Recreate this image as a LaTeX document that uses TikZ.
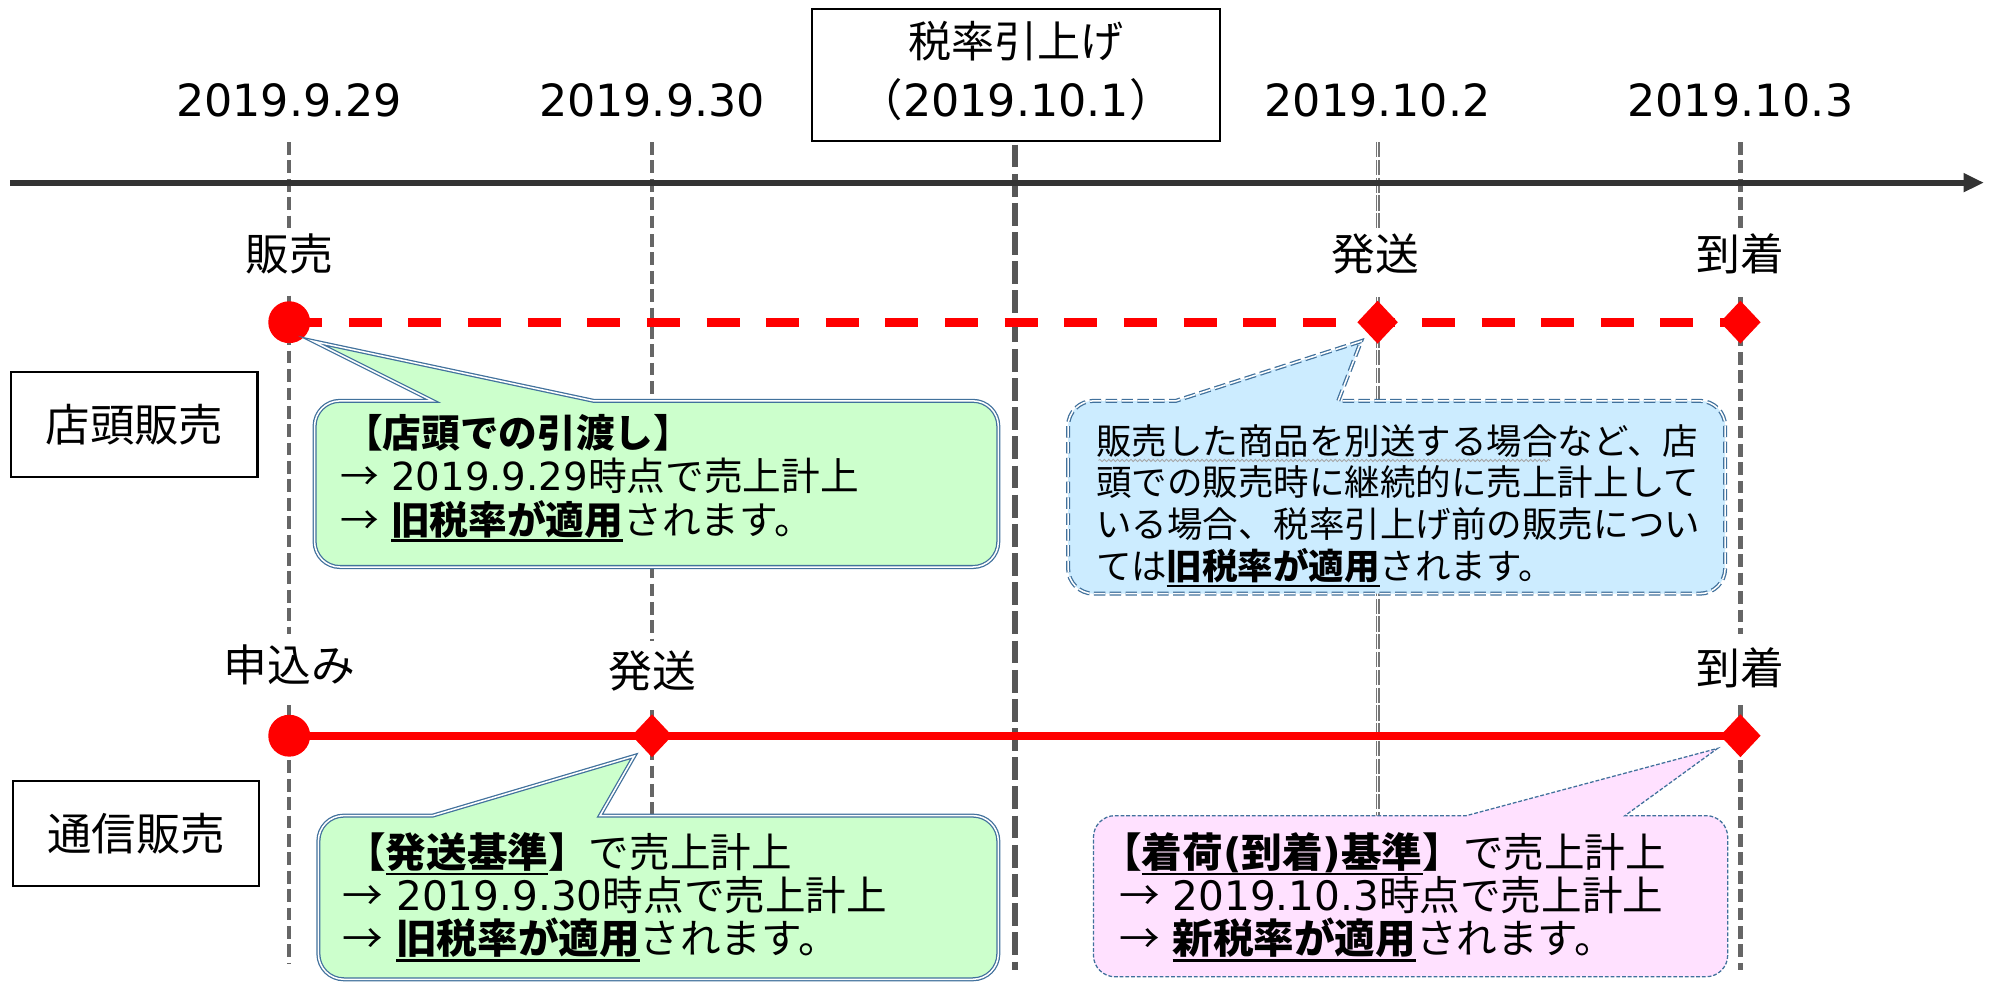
\documentclass[tikz,border=0pt]{standalone}
\usepackage{fontspec}
\setmainfont{Noto Sans CJK JP}
\newfontfamily\lat{DejaVu Sans}
\usetikzlibrary{arrows.meta,decorations.pathmorphing,shapes.geometric}
\definecolor{axisc}{HTML}{333333}
\definecolor{vgray}{HTML}{666666}
\definecolor{cred}{HTML}{FF0000}
\definecolor{cborder}{HTML}{41719C}
\definecolor{gfill}{HTML}{CCFFCC}
\definecolor{bfill}{HTML}{CCECFF}
\definecolor{pfill}{HTML}{FFE1FF}
\newcommand\myul[1]{\setbox0\hbox{#1}\rlap{\vrule width\wd0 height -4pt depth 6pt}\box0}
\tikzset{
  vline/.style={draw=vgray, line width=3.5pt, dash pattern=on 10pt off 4.5pt},
  vthick/.style={draw=vgray!85!black, line width=5pt, dash pattern=on 18pt off 5pt},
  vdouble/.style={draw=vgray!90, line width=0.9pt, double=white, double distance=1.2pt, dash pattern=on 12pt off 2pt},
  datelbl/.style={font=\fontsize{35}{42}\selectfont\lat, inner sep=0pt, anchor=base},
  lbl/.style={font=\fontsize{34.5}{40}\selectfont, inner sep=0pt, anchor=base},
  ctext/.style={font=\fontsize{30.5}{36}\selectfont, inner sep=0pt, anchor=base west},
  ltext/.style={font=\fontsize{32}{38}\selectfont, inner sep=0pt, anchor=base west},
  btext/.style={font=\fontsize{28}{34}\selectfont, inner sep=0pt, anchor=base west},
  rowbox/.style={draw=black, line width=1.6pt, font=\fontsize{35}{40}\selectfont, minimum width=194pt, minimum height=83pt, inner sep=0pt},
  dot/.style={circle, fill=cred, minimum size=33pt, inner sep=0pt},
  dia/.style={diamond, fill=cred, minimum width=32pt, minimum height=34pt, inner sep=0pt},
  gcall/.style={fill=gfill, draw=cborder, line width=1pt, double=white, double distance=1.2pt},
  bcall/.style={fill=bfill, draw=cborder, line width=1pt, double=white, double distance=1.2pt, dash pattern=on 9pt off 3.5pt},
  pcall/.style={fill=pfill, draw=cborder, line width=1pt, dash pattern=on 3pt off 1.5pt},
}
\begin{document}
\begin{tikzpicture}[x=1pt,y=-1pt]
\useasboundingbox (0,0) rectangle (1568,775);
% ---- vertical time lines
\foreach \n/\x in {a/228,b/514,c/800,d/1086,e/1372}{
  \coordinate (top\n) at (\x,112);
}
\draw[vline] (topa) -- (228,180) (228,233) -- (228,500) (228,556) -- (228,760);
\draw[vline] (topb) -- (514,505) (514,560) -- (514,643);
\draw[vthick] (800,114) -- (800,765);
\draw[vdouble] (topd) -- (1086,180) (1086,234) -- (1086,643);
\draw[vline] (tope) -- (1372,180) (1372,234) -- (1372,500) (1372,556) -- (1372,765);
% ---- axis
\coordinate (axs) at (8,144);
\coordinate (axe) at (1564,144);
\draw[axisc, line width=4.5pt, -{Triangle[length=16pt,width=14pt]}] (axs) -- (axe);
% ---- dates
\node[datelbl] (d1) at (228,92) {2019.9.29};
\node[datelbl] (d2) at (514,92) {2019.9.30};
\node[datelbl] (d4) at (1086,92) {2019.10.2};
\node[datelbl] (d5) at (1372,92) {2019.10.3};
\node[draw=black, line width=1.6pt, minimum width=322pt, minimum height=104pt, inner sep=0pt] (tax) at (801,59) {};
\node[lbl, font=\fontsize{34}{40}\selectfont] (tax1) at (801,45) {税率引上げ};
\node[lbl, font=\fontsize{35}{40}\selectfont] (tax2) at (801,92) {（{\lat 2019.10.1}）};
% ---- row 1 (店頭販売)
\node[lbl] (l11) at (228,213) {販売};
\node[lbl] (l14) at (1084,213) {発送};
\node[lbl] (l15) at (1372,213) {到着};
\coordinate (r1a) at (228,254);
\coordinate (r1d) at (1086,254);
\coordinate (r1e) at (1372,254);
\draw[cred, line width=7pt, dash pattern=on 26pt off 21pt] (r1a) -- (r1e);
\node[dot] (m11) at (r1a) {};
\node[dia] (m14) at (r1d) {};
\node[dia] (m15) at (r1e) {};
% ---- row 2 (通信販売)
\node[lbl] (l21) at (228,537) {申込み};
\node[lbl] (l22) at (514,542) {発送};
\node[lbl] (l25) at (1372,540) {到着};
\coordinate (r2a) at (228,580);
\coordinate (r2b) at (514,580);
\coordinate (r2e) at (1372,580);
\draw[cred, line width=6.5pt] (r2a) -- (r2e);
\node[dot] (m21) at (r2a) {};
\node[dia] (m22) at (r2b) {};
\node[dia] (m25) at (r2e) {};
% ---- row boxes
\node[rowbox] (rb1) at (106,334.5) {店頭販売};
\node[rowbox] (rb2) at (107.5,657) {通信販売};
% ---- callouts
\path[gcall] (248,380) [rounded corners=20pt] -- (248,316) [sharp corners] -- (341,316) -- (247,269) -- (468,316) [rounded corners=20pt] -- (787,316) -- (787,447) -- (248,447) -- cycle;
\path[bcall] (842,390) [rounded corners=20pt] -- (842,316) [sharp corners] -- (927,316) -- (1073,269) -- (1055,316) [rounded corners=20pt] -- (1360,316) -- (1360,468) -- (842,468) -- cycle;
\path[gcall] (251,700) [rounded corners=20pt] -- (251,643) [sharp corners] -- (341,643) -- (500,596) -- (473,643) [rounded corners=20pt] -- (787,643) -- (787,772) -- (251,772) -- cycle;
\path[pcall] (862,700) [rounded corners=17pt] -- (862,643) [sharp corners] -- (1156,643) -- (1354,590) -- (1281,643) [rounded corners=17pt] -- (1362,643) -- (1362,770) -- (862,770) -- cycle;
% ---- callout texts
\node[ctext] (g1a) at (271,353) {\bfseries 【店頭での引渡し】};
\node[ctext] (g1b) at (268,387) {→{\lat\ 2019.9.29}時点で売上計上};
\node[ctext] (g1c) at (268,421) {→{\lat\ }\myul{{\bfseries 旧税率が適用}}されます。};
\node[btext] (b1a) at (864,358) {販売した商品を別送する場合など、店};
\node[btext] (b1b) at (864,391) {頭での販売時に継続的に売上計上して};
\node[btext] (b1c) at (864,424) {いる場合、税率引上げ前の販売につい};
\node[btext] (b1d) at (864,457) {ては\myul{{\bfseries 旧税率が適用}}されます。};
\coordinate (wv1) at (866,363);
\coordinate (wv2) at (1222,363);
\draw[draw=gray!70, line width=0.7pt, decorate, decoration={snake, amplitude=0.9pt, segment length=3.5pt}] (wv1) -- (wv2);
\node[ltext] (g2a) at (272,684) {{\bfseries 【\myul{発送基準}】}で売上計上};
\node[ltext] (g2b) at (270,718) {→{\lat\ 2019.9.30}時点で売上計上};
\node[ltext] (g2c) at (270,752) {→{\lat\ }\myul{{\bfseries 旧税率が適用}}されます。};
\node[ltext] (p1a) at (868,684) {{\bfseries 【\myul{着荷{\lat(}到着{\lat)}基準}】}で売上計上};
\node[ltext] (p1b) at (882,718) {→{\lat\ 2019.10.3}時点で売上計上};
\node[ltext] (p1c) at (882,752) {→{\lat\ }\myul{{\bfseries 新税率が適用}}されます。};
\end{tikzpicture}
\end{document}
